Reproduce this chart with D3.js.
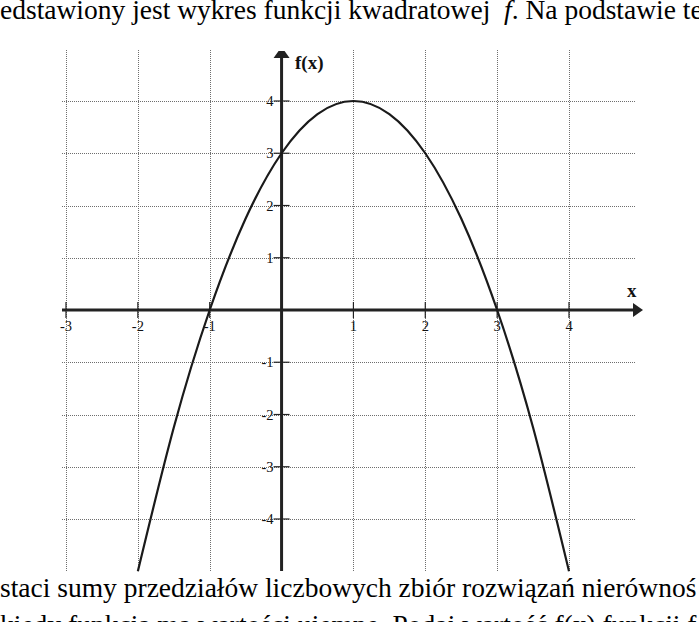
<!DOCTYPE html>
<html>
<head>
<meta charset="utf-8">
<script src="https://cdn.jsdelivr.net/npm/d3@7/dist/d3.min.js"></script>
<style>
html,body{margin:0;padding:0;background:#fff;overflow:hidden;}
svg{display:block;}
text{font-family:"Liberation Serif","Times New Roman",serif;}
</style>
</head>
<body>
<svg id="c" width="699" height="622"></svg>
<script>
// data
const xTicks = [-3, -2, -1, 1, 2, 3, 4];
const yTicks = [-4, -3, -2, -1, 1, 2, 3, 4];
const xTickLabels = ["-3", "-2", "-1", "1", "2", "3", "4"];
const yTickLabels = ["-4", "-3", "-2", "-1", "1", "2", "3", "4"];
const curveX = [-2, -1.5, -1, -0.5, 0, 0.5, 1, 1.5, 2, 2.5, 3, 3.5, 4];
const curveY = [-5, -2.25, 0, 1.75, 3, 3.75, 4, 3.75, 3, 1.75, 0, -2.25, -5];
const topText = "edstawiony jest wykres funkcji kwadratowej ";
const topItalic = "f";
const topRest = ". Na podstawie te";
const bottomText = "staci sumy przedziałów liczbowych zbiór rozwiązań nierównoś";
const bottomText2 = "kiedy funkcja ma wartości ujemne. Podaj wartość f(x) funkcji f dla x ∈ ⟨0";
const yAxisLabel = "f(x)";
const xAxisLabel = "x";

const svg = d3.select("#c");
const x = d3.scaleLinear().domain([-3, 4]).range([66, 569]);
const y = d3.scaleLinear().domain([-4, 4]).range([519, 101]);

const gLeft = 62, gRight = 636, gTop = 50, gBottom = 571;

// grid
const grid = svg.append("g").attr("stroke", "#6e6e6e").attr("stroke-width", 1)
  .attr("stroke-dasharray", "1,1").attr("shape-rendering", "crispEdges");
grid.selectAll("line.v").data(xTicks).enter().append("line")
  .attr("x1", d => Math.round(x(d)) + 0.5).attr("x2", d => Math.round(x(d)) + 0.5)
  .attr("y1", gTop).attr("y2", gBottom);
grid.selectAll("line.h").data(yTicks).enter().append("line")
  .attr("y1", d => Math.round(y(d)) + 0.5).attr("y2", d => Math.round(y(d)) + 0.5)
  .attr("x1", gLeft).attr("x2", gRight);

// axes
const x0 = x(0), y0 = y(0);
svg.append("line").attr("x1", gLeft).attr("x2", 634).attr("y1", y0).attr("y2", y0)
  .attr("stroke", "#222").attr("stroke-width", 3);
svg.append("path").attr("d", `M633,${y0-7}L643,${y0}L633,${y0+7}Z`).attr("fill", "#222");
svg.append("line").attr("x1", x0).attr("x2", x0).attr("y1", gBottom).attr("y2", 57)
  .attr("stroke", "#222").attr("stroke-width", 3);
svg.append("path").attr("d", `M${x0-8},58L${x0-3},51L${x0+3},51L${x0+8},58Z`).attr("fill", "#222");

// tick marks
const ticks = svg.append("g").attr("stroke", "#222").attr("stroke-width", 1.2);
ticks.selectAll("line.xt").data(xTicks).enter().append("line")
  .attr("x1", d => x(d)).attr("x2", d => x(d)).attr("y1", y0 - 8).attr("y2", y0 + 8);
ticks.selectAll("line.yt").data(yTicks).enter().append("line")
  .attr("y1", d => y(d)).attr("y2", d => y(d)).attr("x1", x0 - 8).attr("x2", x0 + 8);

// tick labels
svg.selectAll("text.xl").data(xTicks).enter().append("text")
  .attr("x", d => x(d)).attr("y", y0 + 21).attr("text-anchor", "middle")
  .attr("font-size", 14.5).attr("fill", "#111").text((d, i) => xTickLabels[i]);
svg.selectAll("text.yl").data(yTicks).enter().append("text")
  .attr("x", x0 - 8).attr("y", d => y(d) + 5).attr("text-anchor", "end")
  .attr("font-size", 14.5).attr("fill", "#111").text((d, i) => yTickLabels[i]);

// axis names
svg.append("text").attr("x", 295).attr("y", 69).attr("font-size", 19)
  .attr("font-weight", "bold").attr("fill", "#111").text(yAxisLabel);
svg.append("text").attr("x", 627).attr("y", 297).attr("font-size", 19)
  .attr("font-weight", "bold").attr("fill", "#111").text(xAxisLabel);

// curve
const pts = curveX.map((v, i) => [v, curveY[i]]);
svg.append("path").datum(pts)
  .attr("d", d3.line().x(d => x(d[0])).y(d => y(d[1])).curve(d3.curveNatural))
  .attr("fill", "none").attr("stroke", "#1a1a1a").attr("stroke-width", 2.2);

// surrounding text
const t1 = svg.append("text").attr("x", 0).attr("y", 19).attr("font-size", 27.5).attr("fill", "#000")
  .attr("xml:space", "preserve");
t1.append("tspan").text(topText + " ");
t1.append("tspan").attr("font-style", "italic").text(topItalic);
t1.append("tspan").text(topRest);
svg.append("text").attr("x", 0).attr("y", 597).attr("font-size", 27.5).attr("fill", "#000").text(bottomText);
svg.append("text").attr("x", 0).attr("y", 634).attr("font-size", 27.5).attr("fill", "#000").text(bottomText2);
</script>
</body>
</html>
